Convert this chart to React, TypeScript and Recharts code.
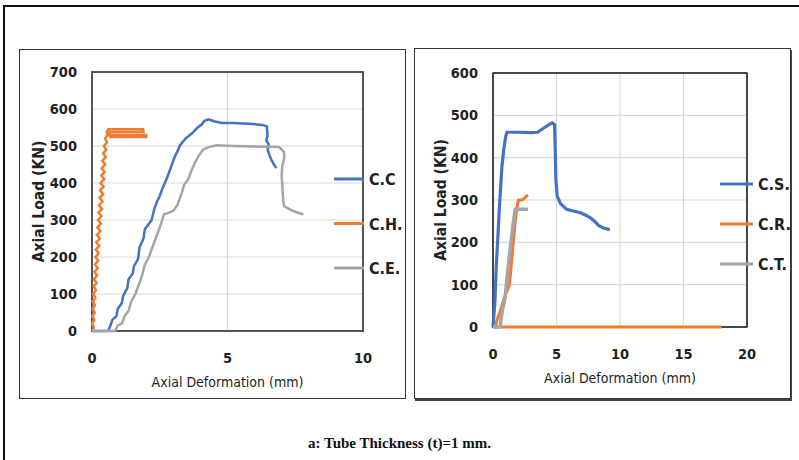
import React from 'react';
import { LineChart, Line, XAxis, YAxis, CartesianGrid, ReferenceArea } from 'recharts';

// left chart: [deformation mm, load kN]
const ccPts: number[][] = [
  [0, 0], [0.6, 0], [0.68, 15], [0.75, 30], [0.9, 40], [0.95, 60], [1.1, 75], [1.15, 95],
  [1.3, 115], [1.35, 140], [1.5, 155], [1.55, 175], [1.7, 195], [1.75, 225], [1.9, 250],
  [1.95, 275], [2.1, 290], [2.2, 300], [2.3, 330], [2.4, 350], [2.5, 365], [2.6, 385],
  [2.75, 410], [2.85, 430], [2.95, 450], [3.05, 470], [3.15, 485], [3.25, 502], [3.45, 520],
  [3.7, 535], [3.9, 550], [4.05, 558], [4.15, 568], [4.3, 572], [4.5, 567], [4.8, 562],
  [5.2, 562], [5.8, 560], [6.3, 557], [6.45, 553], [6.48, 530], [6.43, 515], [6.52, 505],
  [6.48, 490], [6.55, 475], [6.62, 462], [6.7, 452], [6.8, 440],
];
const chPts: number[][] = [
  [0, 0], [0.07, 10], [0.0, 20], [0.09, 30], [0.01, 40], [0.1, 50], [0.02, 60], [0.11, 70],
  [0.03, 80], [0.13, 90], [0.04, 100], [0.15, 110], [0.06, 120], [0.17, 130], [0.07, 140],
  [0.19, 150], [0.09, 160], [0.21, 170], [0.11, 180], [0.23, 190], [0.13, 200], [0.25, 210],
  [0.14, 220], [0.27, 230], [0.16, 240], [0.29, 250], [0.18, 260], [0.31, 270], [0.2, 280],
  [0.33, 290], [0.22, 300], [0.35, 310], [0.24, 320], [0.37, 330], [0.26, 340], [0.39, 350],
  [0.28, 360], [0.41, 370], [0.3, 380], [0.43, 390], [0.32, 400], [0.45, 410], [0.34, 420],
  [0.47, 430], [0.36, 440], [0.49, 450], [0.38, 460], [0.51, 470], [0.41, 480], [0.53, 490],
  [0.44, 500], [0.56, 510], [0.48, 520], [0.58, 530], [0.54, 538], [0.6, 545], [1.88, 545],
  [1.9, 538], [0.65, 538], [0.65, 530], [2.0, 530], [2.0, 524], [0.62, 524],
];
const cePts: number[][] = [
  [0, 0], [0.85, 0], [0.95, 15], [1.1, 20], [1.2, 40], [1.35, 55], [1.45, 80], [1.6, 100],
  [1.7, 120], [1.85, 150], [1.95, 180], [2.1, 200], [2.25, 230], [2.4, 260], [2.55, 290],
  [2.65, 315], [2.85, 320], [3.0, 325], [3.15, 340], [3.3, 370], [3.4, 395], [3.55, 410],
  [3.65, 430], [3.8, 455], [3.95, 475], [4.1, 490], [4.3, 497], [4.6, 502], [5.2, 500],
  [6.9, 497], [7.08, 485], [7.1, 470], [7.02, 445], [7.0, 420], [7.03, 380], [7.06, 350],
  [7.1, 337], [7.4, 325], [7.8, 315],
];

// right chart
const csPts: number[][] = [
  [0, 0], [0.1, 40], [0.16, 64], [0.25, 140], [0.4, 222], [0.5, 280], [0.6, 330], [0.7, 378],
  [0.85, 420], [1.0, 450], [1.1, 460], [2, 460], [3, 459], [3.5, 460], [4, 470], [4.4, 478],
  [4.65, 482], [4.85, 478], [4.9, 420], [4.95, 350], [5.05, 310], [5.3, 292], [5.8, 278],
  [6.3, 274], [6.9, 270], [7.3, 264], [7.7, 257], [8.0, 250], [8.3, 240], [8.7, 234], [9.2, 230],
];
const crPts: number[][] = [
  [18, 0], [0.2, 0], [0.3, 15], [0.6, 40], [0.9, 70], [1.3, 100], [1.45, 150], [1.6, 200],
  [1.75, 250], [1.9, 285], [2.0, 300], [2.3, 300], [2.5, 305], [2.75, 312],
];
const ctPts: number[][] = [
  [0, 0], [0.55, 0], [0.75, 40], [0.95, 70], [1.15, 130], [1.35, 185], [1.55, 235],
  [1.75, 278], [2.75, 278],
];

const leftXTicks = [0, 5, 10];
const leftYTicks = [0, 100, 200, 300, 400, 500, 600, 700];
const rightXTicks = [0, 5, 10, 15, 20];
const rightYTicks = [0, 100, 200, 300, 400, 500, 600];

const leftNames = ['C.C', 'C.H.', 'C.E.'];
const rightNames = ['C.S.', 'C.R.', 'C.T.'];

const BLUE = '#4472C4';
const ORANGE = '#ED7D31';
const GRAY = '#A5A5A5';

const toRows = (pts: number[][]) => pts.map(([x, y]) => ({ x, y }));

const FONT = '"DejaVu Sans Condensed", "DejaVu Sans", sans-serif';
const tickStyle = { fontSize: 14.5, fontFamily: FONT, fontWeight: 700, fill: '#222' };
const xLabelStyle = { fontSize: 14, fontFamily: FONT, fill: '#222', whiteSpace: 'pre' };
const yLabelStyle = { textAnchor: 'middle', fontSize: 15.5, fontFamily: FONT, fontWeight: 700, fill: '#222' };

const Legend2 = ({ items, left, top, gap, len }: any) => (
  <svg style={{ position: 'absolute', left, top, overflow: 'visible' }} width={80} height={gap * 3}>
    {items.map((it: any, i: number) => (
      <g key={it.name}>
        <line x1={0} x2={len} y1={i * gap} y2={i * gap} stroke={it.color} strokeWidth={3} />
        <text x={len + 5} y={i * gap + 6} fontSize={16} fontFamily={FONT} fontWeight={700} fill="#222">
          {it.name}
        </text>
      </g>
    ))}
  </svg>
);

export default function App() {
  return (
    <div style={{ position: 'absolute', left: 0, top: 0, width: 799, height: 460, background: '#fff', overflow: 'hidden' }}>
      {/* outer frame */}
      <div style={{ position: 'absolute', left: 3, top: 5, width: 820, height: 500, borderLeft: '2px solid #111', borderTop: '2px solid #111' }} />
      {/* panels */}
      <div style={{ position: 'absolute', left: 19, top: 49, width: 385, height: 348, border: '1.5px solid #333' }} />
      <div style={{ position: 'absolute', left: 414, top: 48, width: 375, height: 349, border: '1.5px solid #333', boxShadow: '1px 2px 0 #444' }} />

      <div style={{ position: 'absolute', left: 19, top: 49 }}>
        <LineChart width={387} height={350} margin={{ top: 23, right: 43, bottom: 8, left: 13 }}>
          <CartesianGrid stroke="#d9d9d9" strokeWidth={1.2} />
          <XAxis
            type="number"
            dataKey="x"
            domain={[0, 10]}
            ticks={leftXTicks}
            axisLine={false}
            tickLine={false}
            tickMargin={16}
            height={60}
            tick={tickStyle}
            label={{ value: 'Axial Deformation (mm)', position: 'insideBottom', offset: 4, style: xLabelStyle }}
          />
          <YAxis
            type="number"
            dataKey="y"
            domain={[0, 700]}
            ticks={leftYTicks}
            axisLine={false}
            tickLine={false}
            tickMargin={9}
            width={60}
            tick={tickStyle}
            label={{ value: 'Axial Load (KN)', angle: -90, position: 'insideLeft', offset: 6, style: yLabelStyle }}
          />
          <ReferenceArea x1={0} x2={10} y1={0} y2={700} fill="none" stroke="#555" strokeWidth={2} ifOverflow="visible" />
          <Line data={toRows(ccPts)} dataKey="y" name={leftNames[0]} stroke={BLUE} strokeWidth={2.5} dot={false} type="linear" isAnimationActive={false} />
          <Line data={toRows(chPts)} dataKey="y" name={leftNames[1]} stroke={ORANGE} strokeWidth={2.5} dot={false} type="linear" isAnimationActive={false} />
          <Line data={toRows(cePts)} dataKey="y" name={leftNames[2]} stroke={GRAY} strokeWidth={2.5} dot={false} type="linear" isAnimationActive={false} />
        </LineChart>
      </div>

      <div style={{ position: 'absolute', left: 414, top: 48 }}>
        <LineChart width={377} height={351} margin={{ top: 25, right: 44, bottom: 12, left: 19 }}>
          <CartesianGrid stroke="#d9d9d9" strokeWidth={1.2} />
          <XAxis
            type="number"
            dataKey="x"
            domain={[0, 20]}
            ticks={rightXTicks}
            axisLine={false}
            tickLine={false}
            tickMargin={16}
            height={60}
            tick={tickStyle}
            label={{ value: 'Axial  Deformation (mm)', position: 'insideBottom', offset: 4, style: xLabelStyle }}
          />
          <YAxis
            type="number"
            dataKey="y"
            domain={[0, 600]}
            ticks={rightYTicks}
            axisLine={false}
            tickLine={false}
            tickMargin={9}
            width={60}
            tick={tickStyle}
            label={{ value: 'Axial Load (KN)', angle: -90, position: 'insideLeft', offset: 7, style: yLabelStyle }}
          />
          <ReferenceArea x1={0} x2={20} y1={0} y2={600} fill="none" stroke="#111" strokeWidth={1.5} ifOverflow="visible" />
          <Line data={toRows(csPts)} dataKey="y" name={rightNames[0]} stroke={BLUE} strokeWidth={3.2} dot={false} type="linear" isAnimationActive={false} />
          <Line data={toRows(crPts)} dataKey="y" name={rightNames[1]} stroke={ORANGE} strokeWidth={3} dot={false} type="linear" isAnimationActive={false} />
          <Line data={toRows(ctPts)} dataKey="y" name={rightNames[2]} stroke={GRAY} strokeWidth={3.5} dot={false} type="linear" isAnimationActive={false} />
        </LineChart>
      </div>

      <Legend2
        left={334}
        top={179}
        gap={44.5}
        len={30}
        items={[{ name: leftNames[0], color: BLUE }, { name: leftNames[1], color: ORANGE }, { name: leftNames[2], color: GRAY }]}
      />
      <Legend2
        left={720}
        top={184}
        gap={40}
        len={33}
        items={[{ name: rightNames[0], color: BLUE }, { name: rightNames[1], color: ORANGE }, { name: rightNames[2], color: GRAY }]}
      />

      <div style={{ position: 'absolute', left: 0, width: 799, top: 435, textAlign: 'center', fontFamily: '"Liberation Serif", serif', fontWeight: 700, fontSize: 15, color: '#111' }}>
        a: Tube Thickness (t)=1 mm.
      </div>
    </div>
  );
}
